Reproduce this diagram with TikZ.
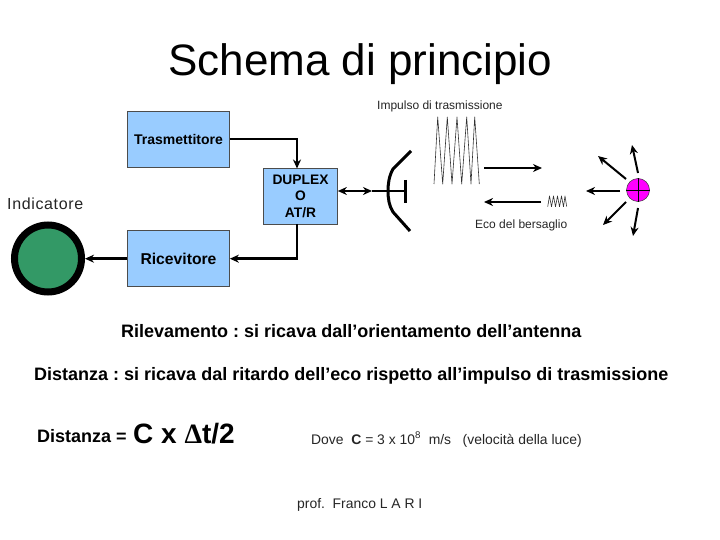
\documentclass[tikz,border=0pt]{standalone}
\usepackage{fontspec}
\setmainfont{Liberation Sans}
\newfontfamily\symbfont{Liberation Serif}
\usepackage{xcolor}
\usepackage{tikz}
\usetikzlibrary{arrows.meta,positioning}
\definecolor{boxblue}{HTML}{99CCFF}
\definecolor{dispgreen}{HTML}{339966}
\definecolor{tgtpink}{HTML}{FF00FF}
\frenchspacing
\begin{document}
\begin{tikzpicture}[
    x=1pt, y=-1pt,
    >={Stealth[length=9pt,width=8pt]},
    block/.style={draw=black!70, fill=boxblue, line width=0.7pt, minimum width=102pt,
                  minimum height=56pt, inner sep=0pt, align=center},
    duplex/.style={block, minimum width=74pt, minimum height=55.5pt},
    label/.style={inner sep=0pt, anchor=base west},
    small/.style={label, font=\fontsize{12}{14}\selectfont, text=black!85},
    note/.style={label, font=\fontsize{13.9}{16}\selectfont, text=black!85},
    heavy/.style={label, font=\fontsize{18}{20}\selectfont\bfseries},
    flow/.style={->, line width=2.6pt},
    wave/.style={line width=0.6pt, line join=round, black!80},
    ray/.style={->, line width=2pt}
  ]
  \useasboundingbox (0,0) rectangle (720,540);
  \fill[white] (0,0) rectangle (720,540);

  % --- title ---
  \node[label, font=\fontsize{44}{48}\selectfont] (title) at (168,76) {Schema di principio};
  \node[small] (imp) at (377,110) {Impulso di trasmissione};

  % --- block chain (left) ---
  \node[block, font=\fontsize{14}{16}\selectfont\bfseries] (tra) at (178.5,139) {Trasmettitore};
  \node[block, below=63pt of tra, font=\fontsize{15.7}{18}\selectfont\bfseries] (ric) {Ricevitore};
  \node[duplex, font=\fontsize{13.8}{16.5}\selectfont\bfseries] (dup) at (300.5,196.2) {DUPLEX\\O\\AT/R};

  \node[label, font=\fontsize{16}{18}\selectfont\addfontfeature{LetterSpace=4}, text=black!85] (ind) at (7,210) {Indicatore};
  \node[circle, draw=black, line width=7pt, fill=dispgreen, minimum size=67pt, inner sep=0pt]
       (disp) at (48,258.5) {};

  \coordinate (dua) at (297,168.5);
  \coordinate (dub) at (297,224);
  \draw[flow] (tra.east) -| (dua);
  \draw[flow] (dub) |- (ric.east);
  \draw[flow] (ric.west) -- (disp.east |- ric.west);

  % --- antenna ---
  \coordinate (feed) at (360,191);
  \coordinate (dish) at (405,191);
  \coordinate (feedmid) at (372,191);
  \draw[flow] (feed) -- (dup.east |- feed);
  \draw[flow] (feed) -- (feedmid);
  \draw[line width=2.6pt] (feedmid) -- (dish);
  \draw[line width=3pt] (405,180) -- (405,203);
  \draw[line width=3pt] (411,151) -- (393,169) .. controls (389,176) and (388,184) .. (388,191)
       .. controls (388,198) and (389,206) .. (393,212) -- (410,231);

  % --- pulses ---
  \draw[wave] (434,184) -- (437.7,117) -- (442.7,184) -- (447.3,117) -- (452,184) -- (457,117)
       -- (461.7,184) -- (466.7,117) -- (471,184) -- (474.7,117) -- (479.3,184);
  \draw[wave] (547.7,206.7) -- (549.5,196) -- (551.5,206.7) -- (553.5,196) -- (555.5,206.7)
       -- (557.5,196) -- (559.5,206.7) -- (561.5,196) -- (563.5,206.7) -- (565,196) -- (566.7,206.7);

  \coordinate (txa) at (484,168);
  \coordinate (txb) at (542,168);
  \coordinate (rxa) at (541,202);
  \coordinate (rxb) at (484,202);
  \draw[ray] (txa) -- (txb);
  \draw[ray] (rxa) -- (rxb);
  \node[small] (eco) at (475,229) {Eco del bersaglio};

  % --- target ---
  \node[circle, draw=black!80, fill=tgtpink, line width=0.5pt, minimum size=23pt, inner sep=0pt] (tgt) at (638,190) {};
  \draw[line width=0.6pt] (tgt.west) -- (tgt.east);
  \draw[line width=0.6pt] (tgt.north) -- (tgt.south);
  \coordinate (r1) at (598,156);
  \coordinate (r2) at (632,145);
  \coordinate (r3) at (586,191);
  \coordinate (r4) at (603,225);
  \coordinate (r5) at (633,236);
  \coordinate (s1) at (626,179);
  \coordinate (s2) at (638,173);
  \coordinate (s3) at (620,191);
  \coordinate (s4) at (626,202);
  \coordinate (s5) at (638,208);
  \foreach \i in {1,...,5}
    \draw[ray] (s\i) -- (r\i);

  % --- formulas ---
  \node[heavy] (ril) at (121,337) {Rilevamento : si ricava dall’orientamento dell’antenna};
  \node[heavy] (dis) at (34,380) {Distanza : si ricava dal ritardo dell’eco rispetto all’impulso di trasmissione};

  \node[label, font=\fontsize{18}{18}\selectfont\bfseries] (dst) at (37,442) {Distanza =};
  \node[label, font=\fontsize{28}{30}\selectfont\bfseries] (frm) at (133,443) {C x {\symbfont Δ}t/2};
  \node[note] (dov) at (311,444) {Dove\ \ {\bfseries C} = 3 x 10\textsuperscript{8}\ \ m/s\ \ \ (velocità della luce)};
  \node[note] (prf) at (297,508) {prof.\ \ Franco L A R I};
\end{tikzpicture}
\end{document}
